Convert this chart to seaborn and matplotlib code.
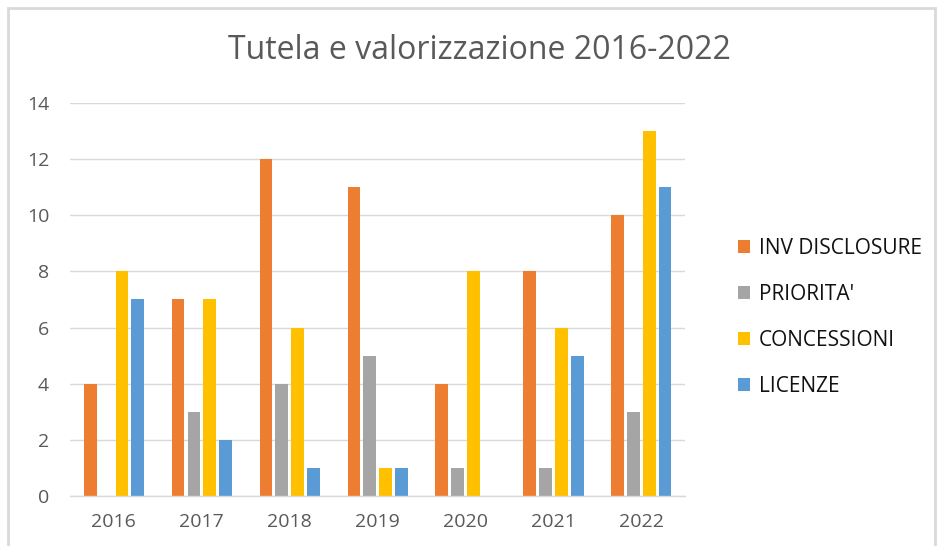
import matplotlib
matplotlib.use("Agg")
import matplotlib.pyplot as plt
import seaborn as sns
import pandas as pd
from matplotlib.patches import Rectangle

years = ["2016", "2017", "2018", "2019", "2020", "2021", "2022"]
inv_disclosure = [4, 7, 12, 11, 4, 8, 10]
priorita = [0, 3, 4, 5, 1, 1, 3]
concessioni = [8, 7, 6, 1, 8, 6, 13]
licenze = [7, 2, 1, 1, 0, 5, 11]

series = {
	"INV DISCLOSURE": inv_disclosure,
	"PRIORITA'": priorita,
	"CONCESSIONI": concessioni,
	"LICENZE": licenze,
}
colors = ["#ED7D31", "#A5A5A5", "#FFC000", "#5B9BD5"]

rows = []
for name, vals in series.items():
	for y, v in zip(years, vals):
		rows.append({"anno": y, "serie": name, "valore": v})
df = pd.DataFrame(rows)

sns.set_theme(style="white")
plt.rcParams['font.family'] = ['Open Sans', 'DejaVu Sans']

fig = plt.figure(figsize=(9.38, 5.46), dpi=100)
ax = fig.add_axes([0.0746, 0.0916, 0.656, 0.7198])

sns.barplot(data=df, x="anno", y="valore", hue="serie", palette=colors,
			width=0.72, gap=0.2, saturation=1, linewidth=0, ax=ax, legend=True)

ax.set_ylim(0, 14)
ax.set_yticks(range(0, 15, 2))
ax.yaxis.grid(True, color="#D9D9D9", linewidth=1)
ax.set_axisbelow(True)
for s in ["top", "right", "left"]:
	ax.spines[s].set_visible(False)
ax.spines["bottom"].set_color("#D9D9D9")
ax.spines["bottom"].set_linewidth(1)
ax.tick_params(axis="both", length=0, labelsize=14, labelcolor="#595959")
ax.tick_params(axis="x", pad=12)
ax.tick_params(axis="y", pad=15)
ax.set_xlabel("")
ax.set_ylabel("")

fig.text(0.511, 0.908, "Tutela e valorizzazione 2016-2022", ha="center", va="center",
		 fontsize=23, color="#595959")

handles, labels = ax.get_legend_handles_labels()
ax.legend(handles, labels, loc="center left", bbox_to_anchor=(1.055, 0.455),
		  frameon=False, fontsize=15, handlelength=0.6, handleheight=0.6,
		  handletextpad=0.4, labelspacing=1.2, labelcolor="#111111")

fig.patches.append(Rectangle((0.009, -0.01), 0.988, 0.995, transform=fig.transFigure,
							 fill=False, edgecolor="#D9D9D9", linewidth=2))

fig.savefig("out.png", dpi=100)
